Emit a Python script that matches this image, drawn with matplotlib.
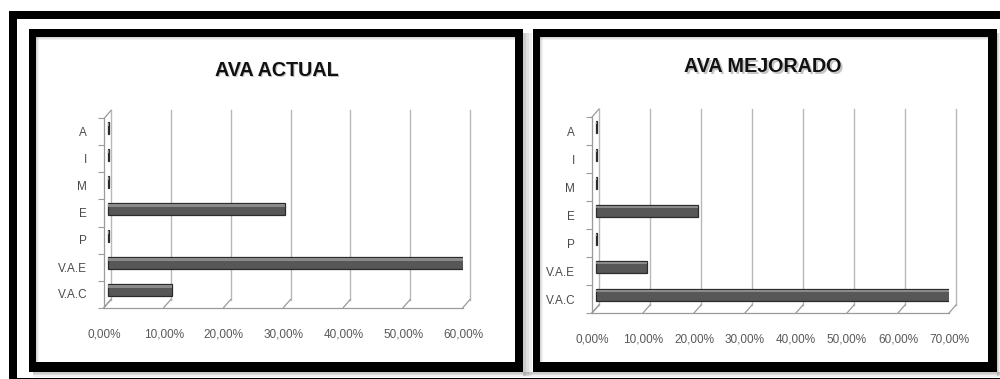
import matplotlib
matplotlib.use("Agg")
import matplotlib.pyplot as plt
import matplotlib.transforms as mtransforms
from matplotlib.patches import Rectangle

# ---- data -------------------------------------------------------------
categories = ["V.A.C", "V.A.E", "P", "E", "M", "I", "A"]
actual_values = [10.8, 59.6, 0.3, 29.6, 0.3, 0.3, 0.3]      # percent
mejorado_values = [70.0, 10.0, 0.2, 20.0, 0.2, 0.2, 0.2]    # percent
actual_ticks = [0, 10, 20, 30, 40, 50, 60]
mejorado_ticks = [0, 10, 20, 30, 40, 50, 60, 70]
titles = ["AVA ACTUAL", "AVA MEJORADO"]

W, H = 1000, 379
FONT = ["Liberation Sans Narrow", "Liberation Sans", "DejaVu Sans"]

fig = plt.figure(figsize=(W / 100, H / 100), dpi=100)
fig.patch.set_facecolor("white")


def box(x0, y0, x1, y1, color, alpha=1.0, z=0):
    """Filled rectangle in pixel coordinates measured from the top-left."""
    fig.add_artist(Rectangle((x0 / W, 1 - y1 / H), (x1 - x0) / W, (y1 - y0) / H,
                             transform=fig.transFigure, facecolor=color,
                             edgecolor="none", alpha=alpha, zorder=z))


def frame(x0, y0, x1, y1, t_left, t_top, t_right, t_bottom, color="black", z=0):
    box(x0, y0, x1, y0 + t_top, color, z=z)
    box(x0, y1 - t_bottom, x1, y1, color, z=z)
    box(x0, y0, x0 + t_left, y1, color, z=z)
    box(x1 - t_right, y0, x1, y1, color, z=z)


# outer border of the sheet (its right side runs past the edge)
frame(9, 11, 1012, 381, 8, 8, 8, 3)

# soft shadows around the two chart panels
for i, a in enumerate([0.4, 0.25, 0.12]):
    box(523 + 3 * i, 33, 526 + 3 * i, 376, "#7f7f7f", alpha=a)
    box(997 + i, 33, 998 + i, 376, "#7f7f7f", alpha=a)
    box(33, 372 + 1.5 * i, 1000, 373.5 + 1.5 * i, "#7f7f7f", alpha=a)
    box(36 + i, 37, 37 + i, 362, "#9a9a9a", alpha=a)
    box(36, 37 + i, 515, 38 + i, "#9a9a9a", alpha=a)
    box(540 + i, 37, 541 + i, 362, "#9a9a9a", alpha=a)
    box(540, 37 + i, 988, 38 + i, "#9a9a9a", alpha=a)

# chart panel borders
frame(29, 29, 523, 372, 7, 8, 8, 10)
frame(533, 29, 997, 372, 7, 8, 9, 10)


def pct(v):
    return f"{v:.2f}%".replace(".", ",")


def slanted(p0, p1, color):
    fig.add_artist(plt.Line2D([p0[0] / W, p1[0] / W], [p0[1] / H, p1[1] / H],
                              transform=fig.transFigure, color=color,
                              lw=0.9, zorder=3))


def draw_chart(rect_px, values, ticks, title, title_xy, depth):
    x0, y0, x1, y1 = rect_px
    ax = fig.add_axes([x0 / W, 1 - y1 / H, (x1 - x0) / W, (y1 - y0) / H])
    ax.set_facecolor("none")
    n = len(categories)
    ypos = list(range(n))
    ax.set_xlim(ticks[0], ticks[-1])
    ax.set_ylim(-0.5, n - 0.5)

    dx, dy = depth
    back = mtransforms.ScaledTranslation(dx / 100, dy / 100, fig.dpi_scale_trans)
    mid = mtransforms.ScaledTranslation(dx / 200, dy / 200, fig.dpi_scale_trans)
    xblend = mtransforms.blended_transform_factory(ax.transData, ax.transAxes)

    grid_col = "#b8b8b8"
    axis_col = "#9a9a9a"
    for t in ticks:
        # back wall grid line
        ax.plot([t, t], [0, 1], transform=xblend + back, color=grid_col,
                lw=1.0, clip_on=False, zorder=1)
        # slanted floor tick joining the front axis to the back wall
        slanted(xblend.transform((t, 0)), (xblend + back).transform((t, 0)),
                axis_col)
    # left wall: slanted edges at top and bottom
    for ya in (0, 1):
        slanted(ax.transAxes.transform((0, ya)),
                (ax.transAxes + back).transform((0, ya)), axis_col)

    # bars, set back half-way into the depth of the plot
    bars = ax.barh(ypos, values, height=0.45, color="#575757",
                   edgecolor="#2b2b2b", linewidth=0.9, zorder=4)
    for b in bars:
        b.set_transform(ax.transData + mid)
    hl = ax.barh([y + 0.13 for y in ypos], values, height=0.08,
                 color="#8a8a8a", linewidth=0, zorder=5)
    for b in hl:
        b.set_transform(ax.transData + mid)

    for s in ("top", "right"):
        ax.spines[s].set_visible(False)
    for s in ("left", "bottom"):
        ax.spines[s].set_color(axis_col)
        ax.spines[s].set_linewidth(0.9)

    ax.set_xticks(ticks)
    ax.set_xticklabels([pct(t) for t in ticks], fontfamily=FONT, fontsize=8.5,
                       color="#595959")
    ax.tick_params(axis="x", length=0, pad=15)
    ax.set_yticks(ypos)
    ax.set_yticklabels(categories, fontfamily=FONT, fontsize=8.5, color="#4a4a4a")
    ax.tick_params(axis="y", length=0, pad=12)
    ax.set_yticks([y - 0.5 for y in range(n + 1)], minor=True)
    ax.tick_params(axis="y", which="minor", length=4, color=axis_col, width=0.8)

    tx, ty = title_xy
    for off, col in (((1.2, -1.2), "#c4c4c4"), ((0, 0), "#111111")):
        fig.text((tx + off[0]) / W, 1 - (ty - off[1]) / H, title,
                 fontfamily=FONT, fontsize=14.2, fontweight="bold",
                 color=col, ha="center", va="center")
    return ax


draw_chart((104, 118.5, 463, 307.5), actual_values, actual_ticks,
           titles[0], (277, 70), (7, 8))
draw_chart((592, 117, 949, 313), mejorado_values, mejorado_ticks,
           titles[1], (763, 67), (7, 8))

fig.savefig("out.png", dpi=100, facecolor="white")
